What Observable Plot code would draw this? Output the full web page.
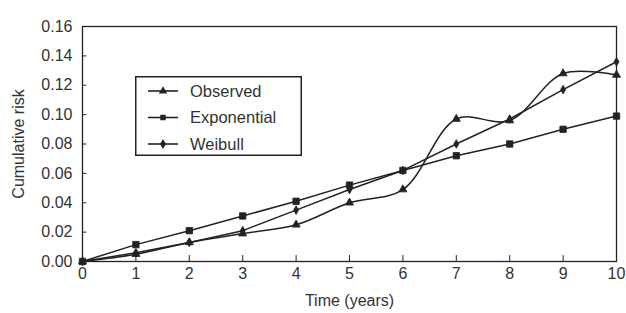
<!DOCTYPE html>
<html>
<head>
<meta charset="utf-8">
<script src="https://cdn.jsdelivr.net/npm/d3@7"></script>
<script src="https://cdn.jsdelivr.net/npm/@observablehq/plot@0.6"></script>
<style>
  html, body { margin: 0; padding: 0; background: #fff; }
  #wrap { position: relative; width: 626px; height: 313px; font-family: "Liberation Sans", Arial, sans-serif; }
  #legend { position: absolute; left: 135px; top: 76px; }
</style>
</head>
<body>
<div id="wrap"></div>
<script>
const years = [0, 1, 2, 3, 4, 5, 6, 7, 8, 9, 10];
const observed = [0, 0.005, 0.013, 0.019, 0.025, 0.040, 0.049, 0.097, 0.096, 0.128, 0.127];
const exponential = [0, 0.0115, 0.021, 0.031, 0.041, 0.052, 0.062, 0.072, 0.080, 0.090, 0.099];
const weibull = [0, 0.006, 0.013, 0.021, 0.035, 0.049, 0.062, 0.080, 0.097, 0.117, 0.136];
const seriesNames = ["Observed", "Exponential", "Weibull"];
const xTicks = [0, 1, 2, 3, 4, 5, 6, 7, 8, 9, 10];
const yTicks = [0, 0.02, 0.04, 0.06, 0.08, 0.10, 0.12, 0.14, 0.16];

const ink = "#222";
const symbols = {Observed: "triangle", Exponential: "square", Weibull: "diamond"};
const radius = {Observed: 3, Exponential: 3.6, Weibull: 2.6};
const curves = {Observed: "catmull-rom", Exponential: "linear", Weibull: "linear"};
const valuesBy = {Observed: observed, Exponential: exponential, Weibull: weibull};

const rows = seriesNames.flatMap(s => years.map((t, i) => ({series: s, t, v: valuesBy[s][i]})));

const marks = [
  Plot.frame({stroke: ink, strokeWidth: 1.3}),
  Plot.ruleY(yTicks, {y: d => d, x1: 0, x2: 0.08, stroke: ink, strokeWidth: 1}),
  Plot.ruleX(xTicks, {x: d => d, y1: 0, y2: 0.004, stroke: ink, strokeWidth: 1}),
  Plot.axisX({ticks: xTicks, tickSize: 0, tickPadding: 6, tickFormat: d => String(d),
    label: "Time (years)", labelAnchor: "center", labelOffset: 44, labelArrow: "none",
    fontSize: 16, fill: "#333"}),
  Plot.axisY({ticks: yTicks, tickSize: 0, tickPadding: 10, tickFormat: d3.format(".2f"),
    label: "Cumulative risk", labelAnchor: "center", labelOffset: 70, labelArrow: "none",
    fontSize: 16, fill: "#333"})
];
for (const s of seriesNames) {
  const data = rows.filter(r => r.series === s);
  marks.push(Plot.line(data, {x: "t", y: "v", stroke: ink, strokeWidth: 1.5, curve: curves[s]}));
  marks.push(Plot.dot(data, {x: "t", y: "v", symbol: symbols[s], r: radius[s], fill: ink, stroke: ink, strokeWidth: 0.8}));
}

const chart = Plot.plot({
  width: 626,
  height: 313,
  marginLeft: 82,
  marginRight: 10,
  marginTop: 26,
  marginBottom: 52,
  style: {fontFamily: "'Liberation Sans', Arial, sans-serif", fontSize: "16px", color: "#333", background: "#fff"},
  x: {domain: [0, 10]},
  y: {domain: [0, 0.16]},
  marks
});
const wrap = document.getElementById("wrap");
wrap.appendChild(chart);

// Legend (overlay)
const lw = 167, lh = 80;
const leg = d3.select(wrap).append("svg").attr("id", "legend").attr("width", lw).attr("height", lh);
leg.append("rect").attr("x", 0.75).attr("y", 0.75).attr("width", lw - 1.5).attr("height", lh - 1.5)
  .attr("fill", "#fff").attr("stroke", ink).attr("stroke-width", 1.5);
const sym = d3.symbol().size(30);
const symMap = {triangle: d3.symbolTriangle, square: d3.symbolSquare, diamond: d3.symbolDiamond};
seriesNames.forEach((s, i) => {
  const y = 15 + i * 26.5;
  leg.append("line").attr("x1", 13).attr("x2", 43).attr("y1", y).attr("y2", y).attr("stroke", ink).attr("stroke-width", 1.6);
  leg.append("path").attr("d", sym.type(symMap[symbols[s]])()).attr("transform", `translate(28,${y})`).attr("fill", ink);
  leg.append("text").attr("x", 55).attr("y", y).attr("dy", "0.35em")
    .attr("font-family", "'Liberation Sans', Arial, sans-serif").attr("font-size", 16.5).attr("fill", "#333").text(s);
});
</script>
</body>
</html>
